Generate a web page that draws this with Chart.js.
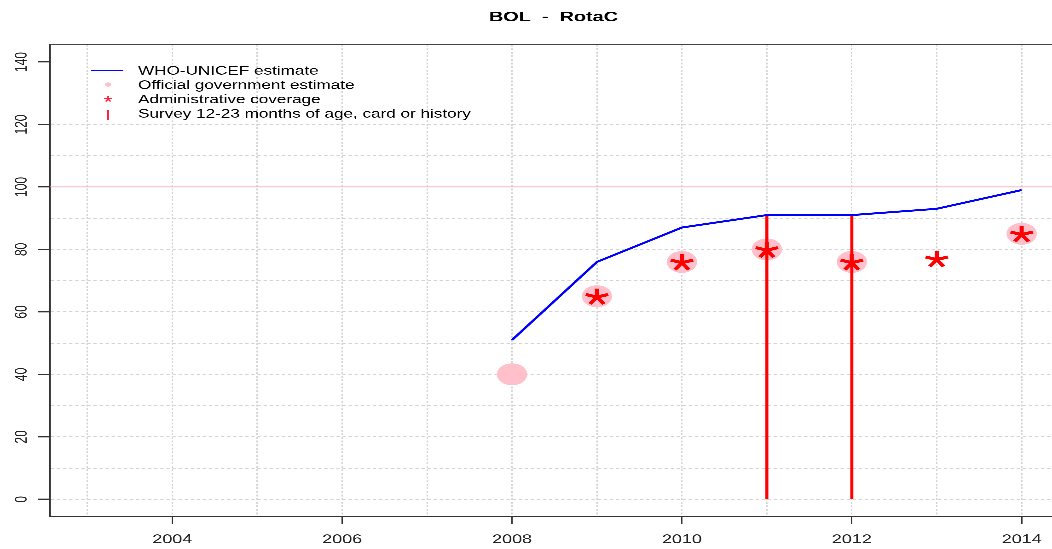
<!DOCTYPE html>
<html>
<head>
<meta charset="utf-8">
<script src="https://cdn.jsdelivr.net/npm/chart.js@4.4.1/dist/chart.umd.min.js"></script>
<style>
html, body { margin: 0; padding: 0; background: #ffffff; overflow: hidden; width: 1052px; height: 549px; }
#wrap { position: absolute; left: 0; top: 0; width: 762px; height: 549px; transform: scaleX(1.38058); transform-origin: 0 0; }
#c { display: block; width: 762px; height: 549px; }
</style>
</head>
<body>
<div id="wrap"><canvas id="c" width="762" height="549"></canvas></div>
<script>
// ---- data ----
const chartTitle = 'BOL  -  RotaC';
const years = [2008, 2009, 2010, 2011, 2012, 2013, 2014];
const whoUnicef = [51, 76, 87, 91, 91, 93, 99];
const officialGov = [40, 65, 76, 80, 76, null, 85];
const adminCoverage = [null, 65, 76, 80, 76, 77, 85];
const surveyYears = [2011, 2012];
const surveyValues = [91, 91];
const seriesLabels = [
  'WHO-UNICEF estimate',
  'Official government estimate',
  'Administrative coverage',
  'Survey 12-23 months of age, card or history'
];
const xGridYears = [2003, 2004, 2005, 2006, 2007, 2008, 2009, 2010, 2011, 2012, 2013, 2014];
const xTickLabels = ['2004', '2006', '2008', '2010', '2012', '2014'];
const yGridValues = [0, 10, 20, 30, 40, 50, 60, 70, 80, 90, 100, 110, 120, 130, 140];
const yTickLabels = ['0', '20', '40', '60', '80', '100', '120', '140'];
const yGridMax = 120;
const refLineValue = 100;

// ---- build library data ----
const toPoints = (xs, ys) => xs.map((x, i) => ({ x: x, y: ys[i] }));
const surveyPoints = [];
surveyYears.forEach((yr, i) => {
  surveyPoints.push({ x: yr, y: 0 });
  surveyPoints.push({ x: yr, y: surveyValues[i] });
  surveyPoints.push({ x: yr, y: null });
});

const FONT = "'Liberation Sans', Arial, sans-serif";
Chart.defaults.font.family = FONT;

function drawAsterisk(ctx, x, y, r, lw, color) {
  ctx.save();
  ctx.strokeStyle = color;
  ctx.lineWidth = lw;
  ctx.lineCap = 'butt';
  const cy = y + 0.095 * r;
  ctx.beginPath();
  for (let k = 0; k < 5; k++) {
    const a = -Math.PI / 2 + k * 2 * Math.PI / 5;
    ctx.moveTo(x, cy);
    ctx.lineTo(x + r * Math.cos(a), cy + r * Math.sin(a));
  }
  ctx.stroke();
  ctx.restore();
}

const rPlotPlugin = {
  id: 'rPlot',
  beforeDatasetsDraw(chart) {
    const { ctx, chartArea, scales } = chart;
    const y = scales.y.getPixelForValue(refLineValue);
    ctx.save();
    ctx.strokeStyle = '#f2bcc4';
    ctx.lineWidth = 1;
    ctx.beginPath();
    ctx.moveTo(chartArea.left, y);
    ctx.lineTo(chartArea.right, y);
    ctx.stroke();
    ctx.restore();
  },
  afterDatasetDraw(chart, args) {
    const ds = chart.data.datasets[args.index];
    if (!ds.asterisk) return;
    const ctx = chart.ctx;
    args.meta.data.forEach((pt, i) => {
      const v = ds.data[i];
      if (!v || v.y === null || v.y === undefined) return;
      drawAsterisk(ctx, pt.x, pt.y, 8.5, 3, '#ff0000');
    });
  },
  afterDraw(chart) {
    const { ctx, chartArea } = chart;
    ctx.save();
    // top frame line
    ctx.strokeStyle = '#444444';
    ctx.lineWidth = 1.3;
    ctx.beginPath();
    ctx.moveTo(chartArea.left, chartArea.top);
    ctx.lineTo(chartArea.right, chartArea.top);
    ctx.stroke();

    // title
    ctx.fillStyle = '#000000';
    ctx.font = 'bold 14.4px ' + FONT;
    ctx.textAlign = 'center';
    ctx.textBaseline = 'middle';
    ctx.fillText(chartTitle, 400.9, 17.3);

    // legend
    const rows = [71.2, 85.5, 99.8, 114.2];
    const mx = 78.3;
    ctx.strokeStyle = '#0000ff';
    ctx.lineWidth = 1;
    ctx.beginPath();
    ctx.moveTo(66, 70.5);
    ctx.lineTo(89.2, 70.5);
    ctx.stroke();

    ctx.fillStyle = '#ffc0cb';
    ctx.beginPath();
    ctx.arc(mx, 84.5, 2.2, 0, Math.PI * 2);
    ctx.fill();

    drawAsterisk(ctx, mx, 98.8, 3, 1.2, '#ff2040');

    ctx.strokeStyle = '#ff2040';
    ctx.lineWidth = 1.3;
    ctx.beginPath();
    ctx.moveTo(mx, 110);
    ctx.lineTo(mx, 120);
    ctx.stroke();

    ctx.fillStyle = '#000000';
    ctx.font = '12.4px ' + FONT;
    ctx.textAlign = 'left';
    ctx.textBaseline = 'middle';
    chart.data.datasets.forEach((ds, i) => {
      ctx.fillText(ds.label, 100, rows[i]);
    });
    ctx.restore();
  }
};

const transparent = 'rgba(0,0,0,0)';

new Chart(document.getElementById('c'), {
  type: 'line',
  data: {
    datasets: [
      {
        label: seriesLabels[0],
        data: toPoints(years, whoUnicef),
        borderColor: '#0000ff',
        borderWidth: 2,
        pointRadius: 0,
        tension: 0,
        fill: false,
        order: 0
      },
      {
        label: seriesLabels[1],
        data: toPoints(years, officialGov),
        showLine: false,
        pointRadius: 11,
        pointHoverRadius: 11,
        pointBackgroundColor: '#ffc0cb',
        pointBorderWidth: 0,
        pointBorderColor: '#ffc0cb',
        order: 3
      },
      {
        label: seriesLabels[2],
        data: toPoints(years, adminCoverage),
        showLine: false,
        pointRadius: 0,
        pointHoverRadius: 0,
        asterisk: true,
        order: 2
      },
      {
        label: seriesLabels[3],
        data: surveyPoints,
        borderColor: '#ff0000',
        borderWidth: 2.2,
        pointRadius: 0,
        spanGaps: false,
        fill: false,
        order: 1
      }
    ]
  },
  options: {
    responsive: false,
    maintainAspectRatio: false,
    animation: false,
    devicePixelRatio: 3,
    events: [],
    layout: { autoPadding: false, padding: { top: 44.5, left: 0, right: 0, bottom: 0 } },
    plugins: {
      legend: { display: false },
      title: { display: false },
      tooltip: { enabled: false }
    },
    scales: {
      x: {
        type: 'linear',
        min: 2002.564,
        max: 2014.357,
        afterBuildTicks: s => { s.ticks = xGridYears.map(v => ({ value: v })); },
        afterFit: s => { s.height = 32.2; s.paddingLeft = 0; s.paddingRight = 0; },
        grid: {
          color: '#d3d3d3',
          lineWidth: 1,
          drawTicks: true,
          tickLength: 7,
          tickWidth: 1,
          tickColor: c => (c.tick && xTickLabels.includes(String(c.tick.value))) ? '#333333' : transparent
        },
        border: { display: true, color: '#333333', width: 1.3, dash: [2, 1.6] },
        ticks: {
          autoSkip: false,
          minRotation: 0,
          maxRotation: 0,
          padding: 8.1,
          color: '#222222',
          font: { family: FONT, size: 13 },
          callback: v => xTickLabels.includes(String(v)) ? String(v) : ''
        }
      },
      y: {
        type: 'linear',
        min: -5.6,
        max: 145.6,
        afterBuildTicks: s => { s.ticks = yGridValues.map(v => ({ value: v })); },
        afterFit: s => { s.width = 36.43; s.paddingTop = 0; s.paddingBottom = 0; },
        grid: {
          color: c => (c.tick && (c.tick.value > yGridMax || c.tick.value === refLineValue)) ? transparent : '#d3d3d3',
          lineWidth: 1,
          drawTicks: true,
          tickLength: 8.9,
          tickWidth: 1.2,
          tickColor: c => (c.tick && yTickLabels.includes(String(c.tick.value))) ? '#333333' : transparent
        },
        border: { display: true, color: '#333333', width: 1.2, dash: [2.4, 2] },
        ticks: {
          autoSkip: false,
          minRotation: 90,
          maxRotation: 90,
          crossAlign: 'center',
          padding: 1.6,
          color: '#222222',
          font: { family: FONT, size: 12 },
          callback: v => yTickLabels.includes(String(v)) ? String(v) : ''
        }
      }
    }
  },
  plugins: [rPlotPlugin]
});
</script>
</body>
</html>
